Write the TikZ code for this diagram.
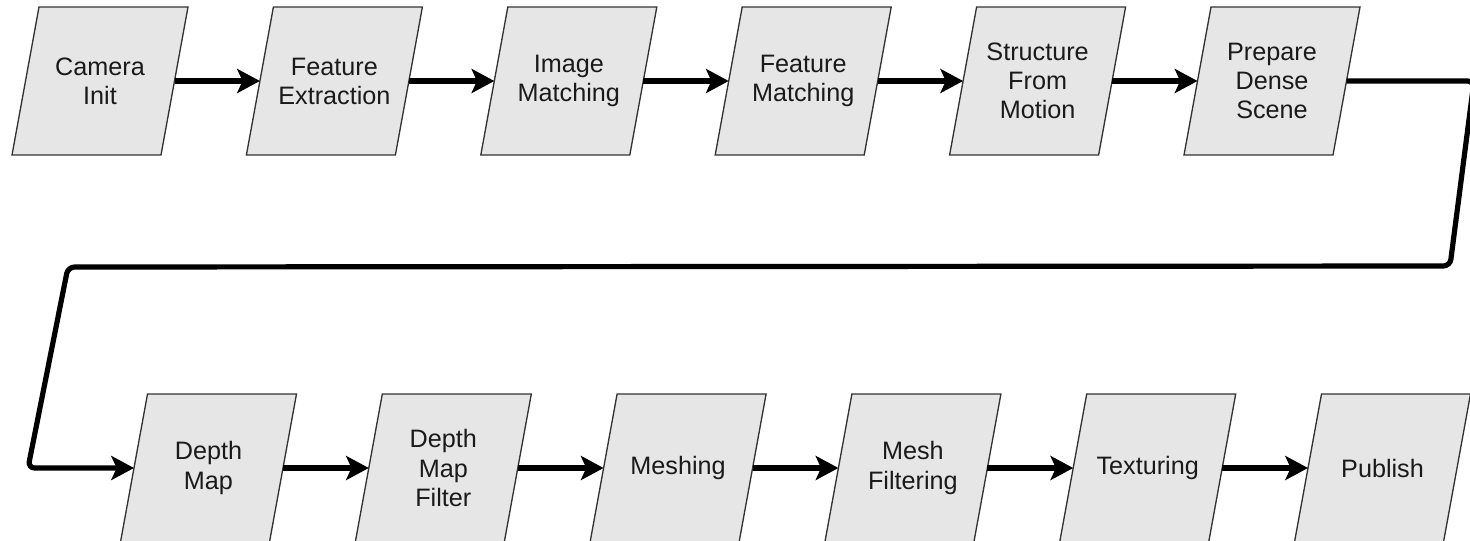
\documentclass[tikz,border=0pt]{standalone}
\usepackage{fontspec}
\setmainfont{Liberation Sans}
\usetikzlibrary{arrows.meta,calc,backgrounds}
\definecolor{boxfill}{HTML}{E6E6E6}
\definecolor{boxline}{HTML}{333333}
\definecolor{txt}{HTML}{1A1A1A}
\begin{document}
\begin{tikzpicture}[x=0.75pt,y=-0.75pt,
  stage/.style={rectangle, minimum width=111.75pt, minimum height=111pt,
    inner sep=0pt, outer sep=0pt,
    align=center, text=txt, font=\fontsize{18.9}{21.8}\selectfont},
  para/.style={fill=boxfill, draw=boxline, line width=1pt, line join=miter},
  flow/.style={line width=3.9pt, -{Stealth[length=17pt,width=18pt,inset=4pt]}},
  loop/.style={flow, rounded corners=5pt}]
\useasboundingbox (0,0) rectangle (1470,540);
\clip (0,0) rectangle (1470,540);
% top row
\node[stage] (s1) at (100,81) {Camera\\Init};
\node[stage] (s2) at (334.4,81) {Feature\\Extraction};
\node[stage] (s3) at (568.8,81) {Image\\Matching};
\node[stage] (s4) at (803.2,81) {Feature\\Matching};
\node[stage] (s5) at (1037.6,81) {Structure\\From\\Motion};
\node[stage] (s6) at (1272,81) {Prepare\\Dense\\Scene};
% bottom row
\node[stage] (b1) at (208.5,468) {Depth\\Map};
\node[stage] (b2) at (443.3,468) {Depth\\Map\\Filter};
\node[stage] (b3) at (678.1,468) {Meshing};
\node[stage] (b4) at (912.9,468) {Mesh\\Filtering};
\node[stage] (b5) at (1147.7,468) {Texturing};
\node[stage] (b6) at (1382.5,468) {Publish};
% parallelogram outlines behind the texts
\begin{scope}[on background layer]
\foreach \n in {s1,s2,s3,s4,s5,s6,b1,b2,b3,b4,b5,b6}
  \filldraw[para] ($(\n.north west)+(13.5,0)$) -- ($(\n.north east)+(13.5,0)$)
    -- ($(\n.south east)+(-13.5,0)$) -- ($(\n.south west)+(-13.5,0)$) -- cycle;
\end{scope}
% connectors
\foreach \a/\b in {s1/s2,s2/s3,s3/s4,s4/s5,s5/s6,b1/b2,b2/b3,b3/b4,b4/b5,b5/b6}
  \draw[flow] (\a.east) -- (\b.west);
\coordinate (c1) at (1474,81);
\coordinate (c2) at (1450,266);
\coordinate (c3) at (68,267);
\coordinate (c4) at (28,468);
\draw[loop] (s6.east) -- (c1) -- (c2) -- (c3) -- (c4) -- (b1.west);
\end{tikzpicture}
\end{document}
